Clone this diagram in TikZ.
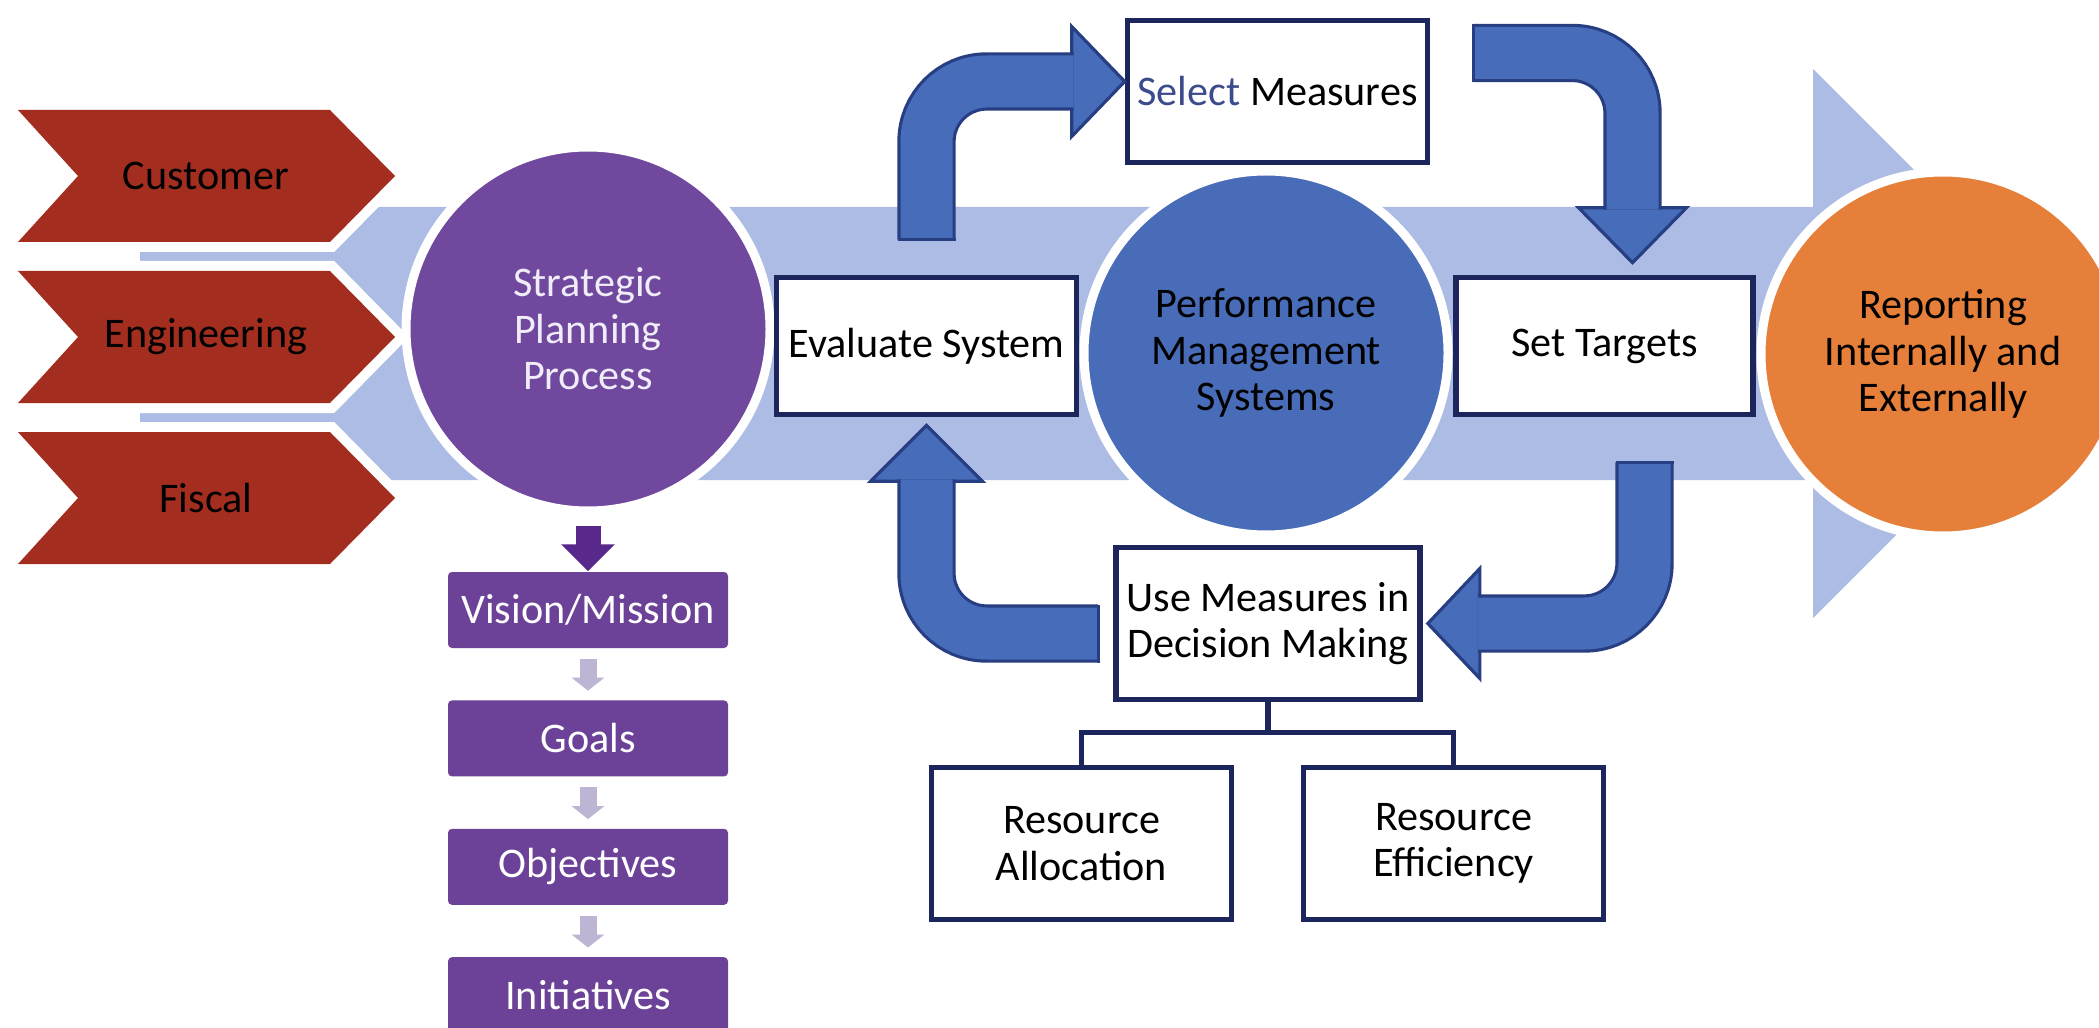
\documentclass[tikz,border=0pt]{standalone}
\usepackage{fontspec}
\setmainfont{Carlito}
\usepackage{xcolor}
\usetikzlibrary{positioning,arrows.meta}

\definecolor{chevred}{RGB}{163,46,31}
\definecolor{bigblue}{RGB}{172,188,228}
\definecolor{stratpurple}{RGB}{112,72,158}
\definecolor{planpurple}{RGB}{108,66,152}
\definecolor{darkpurple}{RGB}{88,40,138}
\definecolor{lavender}{RGB}{190,180,212}
\definecolor{pmblue}{RGB}{72,108,184}
\definecolor{arrowblue}{RGB}{70,108,186}
\definecolor{arrowline}{RGB}{40,62,130}
\definecolor{boxline}{RGB}{28,38,92}
\definecolor{reporange}{RGB}{229,127,58}
\definecolor{selblue}{RGB}{60,75,140}

\tikzset{
  every node/.style={font=\fontsize{12}{13.2}\selectfont},
  chevron/.style={fill=chevred, preaction={draw=white, line width=2mm}},
  bigcircle/.style={circle, draw=white, line width=0.9mm, minimum size=3.64cm, inner sep=0pt, align=center},
  boxnode/.style={draw=boxline, line width=1.6pt, fill=white, align=center, minimum width=3cm, minimum height=1.37cm, inner sep=2pt},
  planbox/.style={fill=planpurple, text=white, minimum width=2.8cm, minimum height=0.76cm, rounded corners=0.4mm, inner sep=0pt},
  steparrow/.style={draw=lavender, line width=1.7mm, -{Triangle[width=3.2mm,length=1.3mm]}, shorten <=1mm, shorten >=0.9mm},
  flowarrow/.style={draw=arrowline, line width=0.9pt, double=arrowblue, double distance=5.2mm, rounded corners=6mm},
  flowhead/.style={fill=arrowblue, draw=arrowline, line width=0.9pt, line join=miter},
  tailcap/.style={draw=arrowline, line width=0.9pt},
  link/.style={draw=boxline, line width=1.6pt}
}

\begin{document}
\begin{tikzpicture}
  \useasboundingbox (0,0) rectangle (20.99,10.27);
  \fill[white] (0,0) rectangle (20.99,10.27);

  % Big background arrow
  \fill[bigblue] (1.40,5.47) -- (18.13,5.47) -- (18.13,4.09) -- (20.88,6.835)
    -- (18.13,9.58) -- (18.13,8.20) -- (1.40,8.20) -- cycle;

  % Input chevrons
  \foreach \y/\name/\txt in {8.51/cust/Customer, 6.90/eng/Engineering, 5.29/fisc/Fiscal} {
    \fill[chevron] (0.18,\y+0.66) -- (3.30,\y+0.66) -- (3.95,\y) -- (3.30,\y-0.66)
      -- (0.18,\y-0.66) -- (0.78,\y) -- cycle;
    \node (\name) at (2.06,\y) {\txt};
  }

  % Circles
  \node[bigcircle, fill=stratpurple, text={rgb,255:red,240;green,236;blue,248}] (strat) at (5.88,6.98) {Strategic\\Planning\\Process};
  \node[bigcircle, fill=pmblue] (pms) at (12.66,6.74) {Performance\\Management\\Systems};
  \node[bigcircle, fill=reporange] (rep) at (19.43,6.73) {Reporting\\Internally and\\Externally};

  % Measurement cycle boxes
  \node[boxnode] (eval) at (9.265,6.81) {Evaluate System};
  \node[boxnode, minimum width=2.97cm] (tgt) at (16.045,6.81) {Set Targets};
  \node[boxnode, minimum height=1.42cm] (sel) at (12.775,9.355) {\textcolor{selblue}{Select} Measures};
  \node[boxnode, minimum width=3.04cm, minimum height=1.52cm] (use) at (12.68,4.035) {Use Measures in\\Decision Making};
  \node[boxnode, minimum height=1.52cm] (alloc) at (10.815,1.835) {Resource\\Allocation};
  \node[boxnode, minimum height=1.52cm] (eff) at (14.535,1.835) {Resource\\Efficiency};

  \draw[link] (use.south) -- ++(0,-0.3) -| (alloc.north);
  \draw[link] (use.south) -- ++(0,-0.3) -| (eff.north);

  % Planning hierarchy
  \node[planbox] (vis) at (5.88,4.17) {Vision/Mission};
  \node[planbox, below=0.51cm of vis] (goals) {Goals};
  \node[planbox, below=0.51cm of goals] (obj) {Objectives};
  \node[planbox, below=0.51cm of obj] (init) {Initiatives};

  \draw[draw=darkpurple, line width=2.5mm, -{Triangle[width=5.2mm,length=2.7mm]}]
    ([yshift=-1mm]strat.south) -- (vis.north);
  \foreach \a/\b in {vis/goals, goals/obj, obj/init}
    \draw[steparrow] (\a) -- (\b);

  % Cycle arrows
  \filldraw[flowhead] ([yshift=1mm]sel.west) -- ++(-0.53,0.55) -- ++(0,-1.1) -- cycle;
  \draw[flowarrow] ([yshift=3.5mm]eval.north) |- ([xshift=-5.1mm,yshift=1mm]sel.west);
  \draw[tailcap] ([xshift=-2.9mm,yshift=3.5mm]eval.north) -- ([xshift=2.9mm,yshift=3.5mm]eval.north);

  \filldraw[flowhead] ([xshift=2.8mm,yshift=1.2mm]tgt.north) -- ++(-0.54,0.55) -- ++(1.08,0) -- cycle;
  \draw[flowarrow] ([xshift=4.3mm,yshift=3.85mm]sel.east) -| ([xshift=2.8mm,yshift=6.5mm]tgt.north);
  \draw[tailcap] ([xshift=4.3mm,yshift=0.95mm]sel.east) -- ([xshift=4.3mm,yshift=6.75mm]sel.east);

  \filldraw[flowhead] ([xshift=0.5mm]use.east) -- ++(0.52,0.55) -- ++(0,-1.1) -- cycle;
  \draw[flowarrow] ([xshift=4mm,yshift=-4.5mm]tgt.south) |- ([xshift=5.5mm]use.east);
  \draw[tailcap] ([xshift=1.1mm,yshift=-4.5mm]tgt.south) -- ([xshift=6.9mm,yshift=-4.5mm]tgt.south);

  \filldraw[flowhead] ([yshift=-0.8mm]eval.south) -- ++(-0.56,-0.56) -- ++(1.12,0) -- cycle;
  \draw[flowarrow] ([xshift=-1.5mm,yshift=-1mm]use.west) -| ([yshift=-6.2mm]eval.south);
  \draw[tailcap] ([xshift=-1.5mm,yshift=-3.9mm]use.west) -- ([xshift=-1.5mm,yshift=1.9mm]use.west);
\end{tikzpicture}
\end{document}
